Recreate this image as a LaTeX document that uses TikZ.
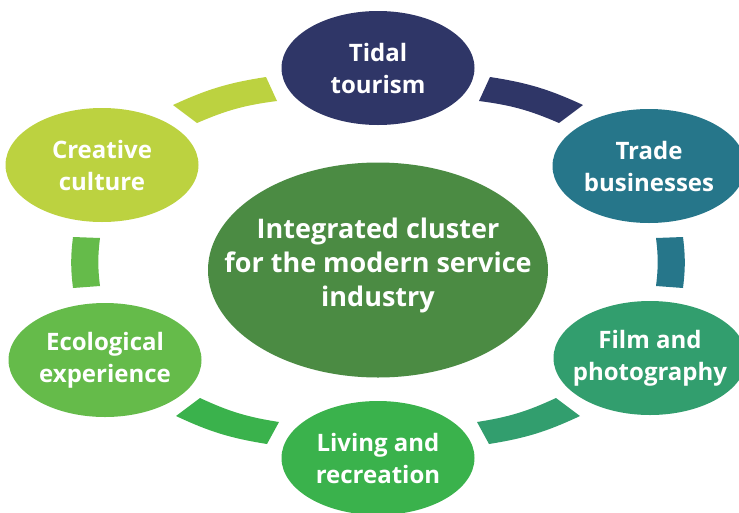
\documentclass[tikz,border=0pt]{standalone}
\usepackage{fontspec}
\setmainfont{Open Sans}
\usetikzlibrary{shapes.geometric}

% Colours of the bubbles and of the ring pieces
\definecolor{tidalc}{HTML}{2F3667}
\definecolor{tradec}{HTML}{26768A}
\definecolor{filmc}{HTML}{329E6E}
\definecolor{livingc}{HTML}{3AB24C}
\definecolor{ecoc}{HTML}{65BB4A}
\definecolor{creativec}{HTML}{BCD240}
\definecolor{hubc}{HTML}{4B8B43}

\tikzset{
  bubble/.style={ellipse, fill=#1, minimum width=193pt, minimum height=114pt, inner sep=0pt},
  lbl/.style={text=white, font=\fontsize{24}{32}\selectfont\bfseries, align=center},
}

\begin{document}
\begin{tikzpicture}[x=1pt,y=-1pt]
\useasboundingbox (0,0) rectangle (739,512);

% Ring pieces, each one clockwise: outer edge, then inner edge back.
\fill[creativec] (173,105) to[bend left=8] (266,77) -- (277,101) to[bend right=8] (197,123) -- cycle;
\fill[tidalc]    (490,77) to[bend left=8] (583,105) -- (559,123) to[bend right=8] (479,101) -- cycle;
\fill[tradec]    (683,237) to[bend left=7] (683,288) -- (656,286) to[bend right=7] (656,238) -- cycle;
\fill[filmc]     (580,416) to[bend left=8] (489,444) -- (477,422) to[bend right=8] (556,398) -- cycle;
\fill[livingc]   (267,444) to[bend left=8] (176,416) -- (200,398) to[bend right=8] (279,422) -- cycle;
\fill[ecoc]      (73,288) to[bend left=7] (73,237) -- (100,238) to[bend right=7] (100,286) -- cycle;

% Hub in the middle
\node[bubble=hubc, minimum width=340pt, minimum height=215pt,
      label={[lbl, font=\fontsize{27}{34}\selectfont\bfseries, yshift=5pt]center:Integrated cluster\\for the modern service\\industry}] (hub) at (378,270) {};

% Bubbles round the ring
\node[bubble=tidalc,    label={[lbl]center:Tidal\\tourism}]         (tidal)    at (378,68)  {};
\node[bubble=tradec,    label={[lbl]center:Trade\\businesses}]      (trade)    at (649,166) {};
\node[bubble=filmc,     label={[lbl]center:Film and\\photography}]  (film)     at (650,358) {};
\node[bubble=livingc,   label={[lbl]center:Living and\\recreation}] (living)   at (378,458) {};
\node[bubble=ecoc,      label={[lbl]center:Ecological\\experience}] (eco)      at (105,360) {};
\node[bubble=creativec, label={[lbl]center:Creative\\culture}]      (creative) at (102,165) {};

\end{tikzpicture}
\end{document}
